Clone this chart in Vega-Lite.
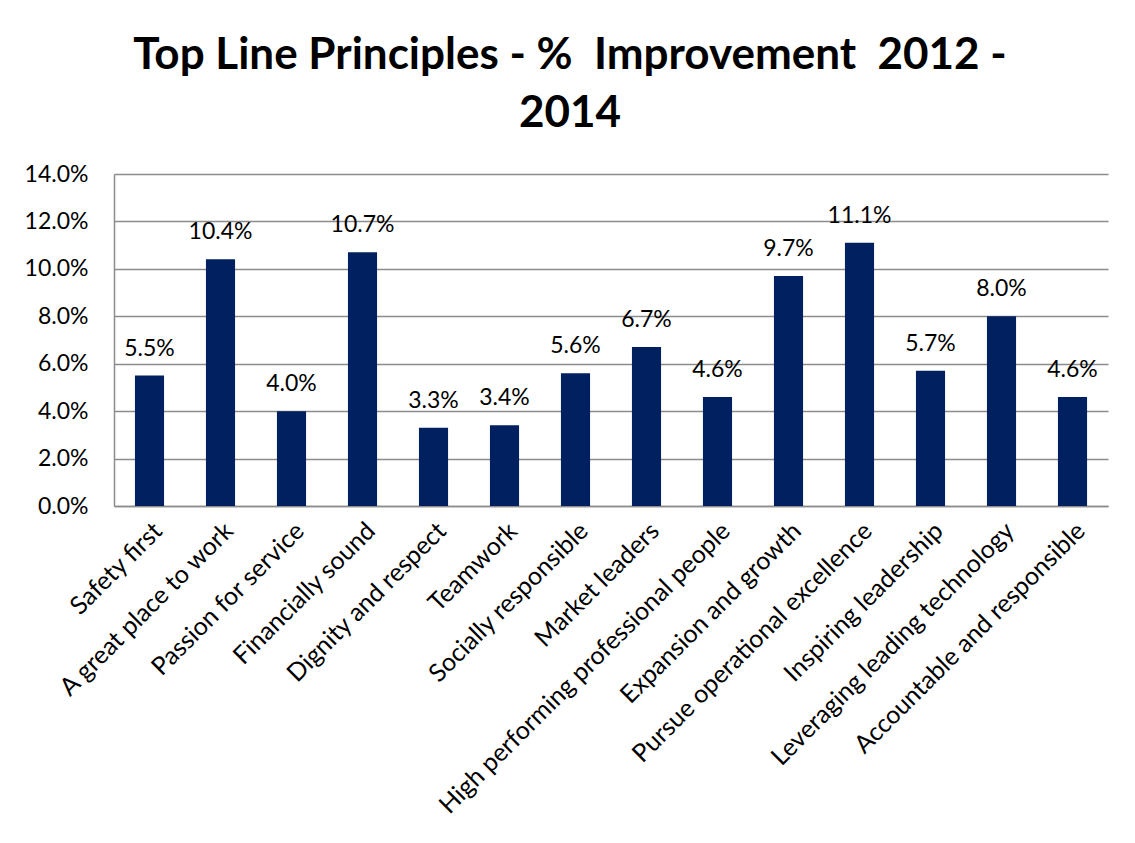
{
  "$schema": "https://vega.github.io/schema/vega-lite/v6.json",
  "autosize": {"type": "none"},
  "padding": {"left": 114, "top": 174, "right": 27, "bottom": 337},
  "width": 994,
  "height": 332,
  "background": "white",
  "title": {
    "text": ["Top Line Principles - %\u00a0 Improvement\u00a0 2012 -", "2014"],
    "anchor": "middle",
    "frame": "group",
    "dx": -41,
    "offset": 27,
    "font": "Lato",
    "fontSize": 44,
    "fontWeight": "bold",
    "color": "black",
    "lineHeight": 58
  },
  "data": {
    "values": [
      {"principle": "Safety first", "value": 0.055},
      {"principle": "A great place to work", "value": 0.104},
      {"principle": "Passion for service", "value": 0.040},
      {"principle": "Financially sound", "value": 0.107},
      {"principle": "Dignity and respect", "value": 0.033},
      {"principle": "Teamwork", "value": 0.034},
      {"principle": "Socially responsible", "value": 0.056},
      {"principle": "Market leaders", "value": 0.067},
      {"principle": "High performing professional people", "value": 0.046},
      {"principle": "Expansion and growth", "value": 0.097},
      {"principle": "Pursue operational excellence", "value": 0.111},
      {"principle": "Inspiring leadership", "value": 0.057},
      {"principle": "Leveraging leading technology", "value": 0.080},
      {"principle": "Accountable and responsible", "value": 0.046}
    ]
  },
  "encoding": {
    "x": {
      "field": "principle",
      "type": "nominal",
      "sort": null,
      "scale": {"paddingInner": 0.59, "paddingOuter": 0.295},
      "axis": {
        "title": null,
        "labelAngle": -45,
        "labelAlign": "right",
        "labelBaseline": "top",
        "labelFont": "Lato",
        "labelFontSize": 25,
        "labelColor": "black",
        "labelPadding": 12,
        "ticks": false,
        "domainColor": "#8c8c8c",
        "domainWidth": 1.5,
        "labelLimit": 600
      }
    },
    "y": {
      "field": "value",
      "type": "quantitative",
      "scale": {"domain": [0, 0.14], "nice": false},
      "axis": {
        "title": null,
        "values": [0, 0.02, 0.04, 0.06, 0.08, 0.1, 0.12, 0.14],
        "format": ".1%",
        "labelFont": "Lato",
        "labelFontSize": 23,
        "labelColor": "black",
        "labelPadding": 26,
        "ticks": false,
        "domainColor": "#8c8c8c",
        "domainWidth": 1.5,
        "gridColor": "#8c8c8c",
        "gridWidth": 1.5,
        "gridOpacity": 1
      }
    }
  },
  "layer": [
    {"mark": {"type": "bar", "color": "#002060"}},
    {
      "mark": {"type": "text", "baseline": "alphabetic", "dy": -20, "font": "Lato", "fontSize": 23, "color": "black"},
      "encoding": {"text": {"field": "value", "type": "quantitative", "format": ".1%"}}
    }
  ],
  "config": {"view": {"stroke": null}}
}
